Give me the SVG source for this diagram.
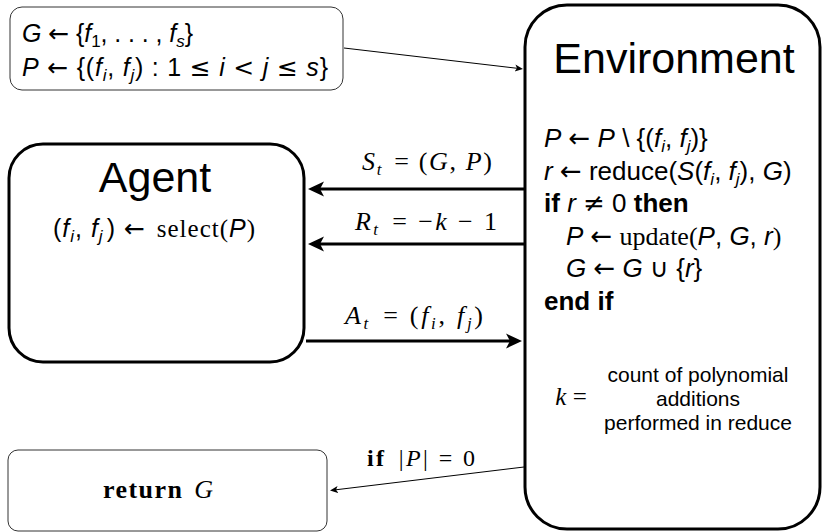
<svg xmlns="http://www.w3.org/2000/svg" width="823" height="532" viewBox="0 0 823 532">
<defs>
<style>
text { font-family: "Liberation Sans", "DejaVu Sans", sans-serif; fill: #000; }
.si { font-style: italic; }
.rm { font-family: "Liberation Serif", "DejaVu Serif", serif; }
.sym { font-family: "DejaVu Sans", sans-serif; font-style: normal; font-weight: normal; }
.b { font-weight: bold; }
.title { font-size: 43px; text-anchor: middle; }
.thick { fill: #fff; stroke: #000; stroke-width: 3; }
.thin { fill: #fff; stroke: #333; stroke-width: 1; }
.conn-thick { fill: none; stroke: #000; stroke-width: 3; }
.conn-thin { fill: none; stroke: #000; stroke-width: 1; }
.sub { font-size: 17px; }
.env { font-size: 26px; }
</style>
<marker id="headBig" viewBox="0 -9 18 18" markerWidth="18" markerHeight="18" refX="8" refY="0" orient="auto" markerUnits="userSpaceOnUse">
<path d="M0,-7.5 L16,0 L0,7.5 L4,0 Z" fill="#000"/>
</marker>
<marker id="headSmall" viewBox="0 -5 10 10" markerWidth="10" markerHeight="10" refX="4" refY="0" orient="auto" markerUnits="userSpaceOnUse">
<path d="M0,-3.5 L8,0 L0,3.5 L2,0 Z" fill="#000"/>
</marker>
</defs>

<g id="connectors">
<line class="conn-thin" x1="344" y1="48" x2="519" y2="68.5" marker-end="url(#headSmall)"/>
<line class="conn-thick" x1="524" y1="189" x2="316" y2="189" marker-end="url(#headBig)"/>
<line class="conn-thick" x1="524" y1="244" x2="316" y2="244" marker-end="url(#headBig)"/>
<line class="conn-thick" x1="306" y1="341" x2="514" y2="341" marker-end="url(#headBig)"/>
<line class="conn-thin" x1="524" y1="467" x2="334" y2="490" marker-end="url(#headSmall)"/>
<text class="rm" x="427" y="170" font-size="26" text-anchor="middle" textLength="130" lengthAdjust="spacing"><tspan class="si">S</tspan><tspan class="sub si" dy="5">t</tspan><tspan dy="-5" dx="3"> = (</tspan><tspan class="si">G</tspan>, <tspan class="si">P</tspan>)</text>
<text class="rm" x="426" y="230" font-size="26" text-anchor="middle" textLength="142" lengthAdjust="spacing"><tspan class="si">R</tspan><tspan class="sub si" dy="5">t</tspan><tspan dy="-5" dx="3"> = −</tspan><tspan class="si">k</tspan> − 1</text>
<text class="rm" x="414" y="324" font-size="26" text-anchor="middle" textLength="138" lengthAdjust="spacing"><tspan class="si">A</tspan><tspan class="sub si" dy="5">t</tspan><tspan dy="-5" dx="3"> = (</tspan><tspan class="si">f</tspan><tspan class="sub si" dy="5">i</tspan><tspan dy="-5">, </tspan><tspan class="si">f</tspan><tspan class="sub si" dy="5">j</tspan><tspan dy="-5">)</tspan></text>
<text class="rm" x="421" y="466" font-size="24" text-anchor="middle" textLength="108" lengthAdjust="spacing"><tspan class="b">if</tspan><tspan dx="4"> |</tspan><tspan class="si">P</tspan>| = 0</text>
</g>

<g id="init">
<rect class="thin" x="10" y="7" width="333" height="83" rx="12"/>
<text x="22" y="42" font-size="25" textLength="171" lengthAdjust="spacing"><tspan class="si">G</tspan> <tspan class="sym">←</tspan> {<tspan class="si">f</tspan><tspan class="sub" dy="5">1</tspan><tspan dy="-5">, . . . , </tspan><tspan class="si">f</tspan><tspan class="sub si" dy="5">s</tspan><tspan dy="-5">}</tspan></text>
<text x="22" y="76" font-size="25" textLength="306" lengthAdjust="spacing"><tspan class="si">P</tspan> <tspan class="sym">←</tspan> {(<tspan class="si">f</tspan><tspan class="sub si" dy="5">i</tspan><tspan dy="-5">, </tspan><tspan class="si">f</tspan><tspan class="sub si" dy="5">j</tspan><tspan dy="-5">) : 1 </tspan><tspan class="sym">≤</tspan> <tspan class="si">i</tspan> <tspan class="sym">&lt;</tspan> <tspan class="si">j</tspan> <tspan class="sym">≤</tspan> <tspan class="si">s</tspan>}</text>
</g>

<g id="environment">
<rect class="thick" x="525" y="5" width="295" height="524" rx="42"/>
<text class="title" x="674" y="73">Environment</text>
<text class="env" x="544" y="147"><tspan class="si">P</tspan> <tspan class="sym">←</tspan> <tspan class="si">P</tspan> \ {(<tspan class="si">f</tspan><tspan class="sub si" dy="5">i</tspan><tspan dy="-5">, </tspan><tspan class="si">f</tspan><tspan class="sub si" dy="5">j</tspan><tspan dy="-5">)}</tspan></text>
<text class="env" x="544" y="180"><tspan class="si">r</tspan> <tspan class="sym">←</tspan> reduce(<tspan class="si">S</tspan>(<tspan class="si">f</tspan><tspan class="sub si" dy="5">i</tspan><tspan dy="-5">, </tspan><tspan class="si">f</tspan><tspan class="sub si" dy="5">j</tspan><tspan dy="-5">), </tspan><tspan class="si">G</tspan>)</text>
<text class="env" x="544" y="212"><tspan class="b">if</tspan> <tspan class="si">r</tspan> <tspan class="sym">≠</tspan> 0 <tspan class="b">then</tspan></text>
<text class="env" x="566" y="245"><tspan class="si">P</tspan> <tspan class="sym">←</tspan> <tspan class="rm">update(</tspan><tspan class="si">P</tspan>, <tspan class="si">G</tspan>, <tspan class="si">r</tspan><tspan class="rm">)</tspan></text>
<text class="env" x="566" y="277"><tspan class="si">G</tspan> <tspan class="sym">←</tspan> <tspan class="si">G</tspan> <tspan class="sym">∪</tspan> {<tspan class="si">r</tspan>}</text>
<text class="env b" x="544" y="310">end if</text>
<text class="rm" x="571" y="405" font-size="25" text-anchor="middle"><tspan class="si">k</tspan> =</text>
<text x="698" y="382" font-size="21" text-anchor="middle">count of polynomial</text>
<text x="698" y="406" font-size="21" text-anchor="middle">additions</text>
<text x="698" y="430" font-size="21" text-anchor="middle">performed in reduce</text>
</g>

<g id="agent">
<rect class="thick" x="9" y="144" width="295" height="218" rx="34"/>
<text class="title" x="155" y="192" font-size="42">Agent</text>
<text x="154" y="237" font-size="25" text-anchor="middle" textLength="202" lengthAdjust="spacing">(<tspan class="si">f</tspan><tspan class="sub si" dy="5">i</tspan><tspan dy="-5">, </tspan><tspan class="si">f</tspan><tspan class="sub si" dy="5">j</tspan><tspan dy="-5" dx="3">) </tspan><tspan class="sym">←</tspan><tspan dx="3"> </tspan><tspan class="rm">select(</tspan><tspan class="si">P</tspan><tspan class="rm">)</tspan></text>
</g>

<g id="return">
<rect class="thin" x="8" y="450" width="319" height="81" rx="10"/>
<text class="rm" x="158" y="498" font-size="26" text-anchor="middle" textLength="110" lengthAdjust="spacing"><tspan class="b">return</tspan><tspan dx="3"> </tspan><tspan class="si">G</tspan></text>
</g>
</svg>
